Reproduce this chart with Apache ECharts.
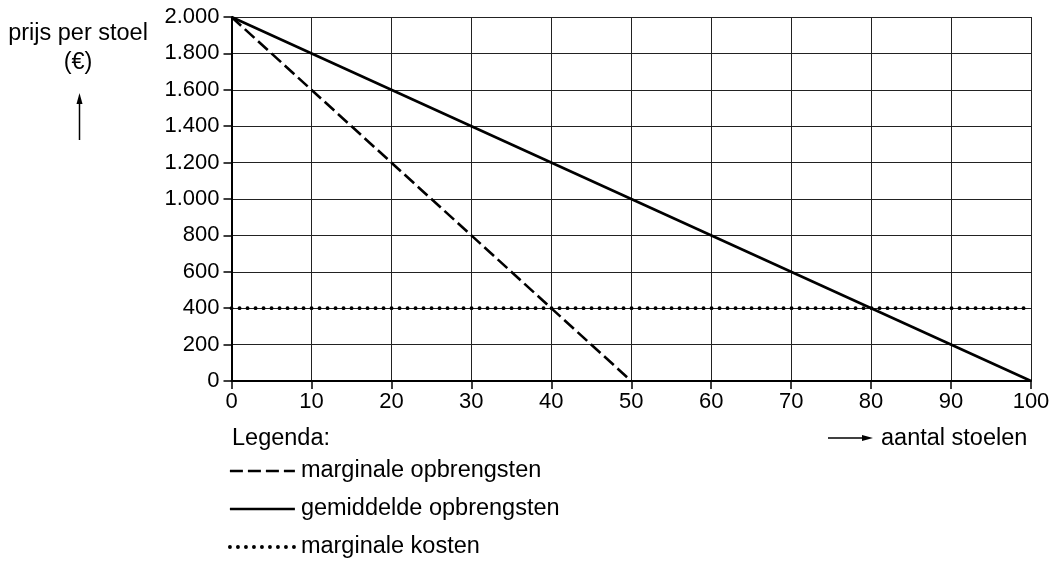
<!DOCTYPE html>
<html>
<head>
<meta charset="utf-8">
<script src="https://cdn.jsdelivr.net/npm/echarts@6/dist/echarts.min.js"></script>
<style>html,body{margin:0;padding:0;background:#fff}#c{width:1062px;height:562px}</style>
</head>
<body>
<div id="c"></div>
<script>
const xTicks = [0,10,20,30,40,50,60,70,80,90,100];
const yTicks = [0,200,400,600,800,1000,1200,1400,1600,1800,2000];
const seriesNames = ['marginale opbrengsten','gemiddelde opbrengsten','marginale kosten'];
const mrX = [0,50];   const mrY = [2000,0];
const goX = [0,100];  const goY = [2000,0];
const mkX = [0,100];  const mkY = [400,400];

function pairs(xs, ys){ return xs.map((x,i)=>[x, ys[i]]); }
function fmt(v){ return v >= 1000 ? Math.floor(v/1000) + '.' + String(v%1000).padStart(3,'0') : String(v); }

const font = 'Liberation Sans, Arial, sans-serif';
const dashStyle = {color:'#000', width:2.6, type:[13,5]};
const solidStyle = {color:'#000', width:2.6, type:'solid'};
const dotStyle = {color:'#000', width:3.8, type:[0.1,7.9], cap:'round'};
const chart = echarts.init(document.getElementById('c'), null, {renderer:'canvas'});
chart.setOption({
  animation:false,
  textStyle:{fontFamily:font},
  grid:{left:231.5, right:31, top:17, bottom:181, containLabel:false},
  xAxis:{type:'value', min:xTicks[0], max:xTicks[xTicks.length-1], interval:10,
    axisLine:{lineStyle:{color:'#000', width:2}},
    axisTick:{show:true, length:8, lineStyle:{color:'#000', width:1.5}},
    axisLabel:{color:'#000', fontSize:22, margin:10, fontFamily:font},
    splitLine:{show:true, lineStyle:{color:'#222', width:1}}},
  yAxis:{type:'value', min:yTicks[0], max:yTicks[yTicks.length-1], interval:200,
    axisLine:{show:true, lineStyle:{color:'#000', width:2}},
    axisTick:{show:true, length:8, lineStyle:{color:'#000', width:1.5}},
    axisLabel:{color:'#000', fontSize:22, margin:12, fontFamily:font, formatter:fmt},
    splitLine:{show:true, lineStyle:{color:'#222', width:1}}},
  legend:{orient:'vertical', left:228, top:459, width:500, height:140, padding:0, itemGap:14, itemWidth:65, itemHeight:24,
    data:[
      {name:seriesNames[0], lineStyle:dashStyle},
      {name:seriesNames[1], lineStyle:solidStyle},
      {name:seriesNames[2], lineStyle:dotStyle}
    ],
    itemStyle:{color:'rgba(0,0,0,0)', borderWidth:0, opacity:0},
    textStyle:{color:'#000', fontSize:23.5, fontFamily:font, padding:[0,0,0,1]},
    selectedMode:false},
  graphic:[
    {type:'text', x:232, y:439, style:{text:'Legenda:', fill:'#000', font:'23.5px '+font, verticalAlign:'middle'}},
    {type:'text', x:78, y:34, style:{text:'prijs per stoel', fill:'#000', font:'23.5px '+font, align:'center', verticalAlign:'middle'}},
    {type:'text', x:78, y:63, style:{text:'(€)', fill:'#000', font:'23.5px '+font, align:'center', verticalAlign:'middle'}},
    {type:'line', shape:{x1:79.5, y1:140, x2:79.5, y2:102}, style:{stroke:'#000', lineWidth:1.5}},
    {type:'polygon', shape:{points:[[79.5,93],[76.5,104],[82.5,104]]}, style:{fill:'#000'}},
    {type:'line', shape:{x1:828, y1:438, x2:865, y2:438}, style:{stroke:'#000', lineWidth:1.5}},
    {type:'polygon', shape:{points:[[873,438],[862,435],[862,441]]}, style:{fill:'#000'}},
    {type:'text', x:881, y:439, style:{text:'aantal stoelen', fill:'#000', font:'23.5px '+font, verticalAlign:'middle'}}
  ],
  series:[
    {name:seriesNames[0], type:'line', data:pairs(mrX,mrY), symbol:'none', color:'#000', lineStyle:dashStyle},
    {name:seriesNames[1], type:'line', data:pairs(goX,goY), symbol:'none', color:'#000', lineStyle:solidStyle},
    {name:seriesNames[2], type:'line', data:pairs(mkX,mkY), symbol:'none', color:'#000', lineStyle:dotStyle}
  ]
});
</script>
</body>
</html>
